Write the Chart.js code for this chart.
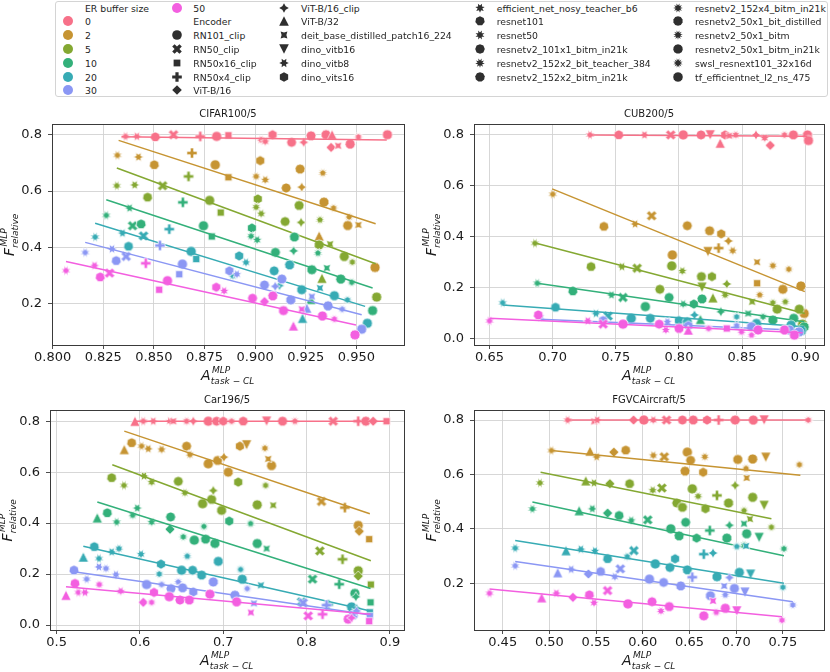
<!DOCTYPE html>
<html><head><meta charset="utf-8">
<script src="https://cdn.jsdelivr.net/npm/chart.js@4/dist/chart.umd.min.js"></script>
<style>
body{margin:0;background:#fff;width:830px;height:672px;position:relative;overflow:hidden;font-family:'DejaVu Sans',sans-serif;}
.pane{position:absolute;}
#legend{position:absolute;left:55px;top:1px;width:773px;height:96px;border:1px solid #d4d4d4;border-radius:3px;box-sizing:border-box;background:#fff;}
.lt{position:absolute;font-size:9.3px;line-height:11px;color:#262626;white-space:nowrap;transform:translateY(-50%);}
.lm{position:absolute;}
</style></head><body>
<div id="legend"></div>
<div class="pane" style="left:0;top:100px"><canvas id="c0" width="415" height="285"></canvas></div>
<div class="pane" style="left:415px;top:100px"><canvas id="c1" width="415" height="285"></canvas></div>
<div class="pane" style="left:0;top:385px"><canvas id="c2" width="415" height="287"></canvas></div>
<div class="pane" style="left:415px;top:385px"><canvas id="c3" width="415" height="287"></canvas></div>
<script>
// ---------- categories ----------
const BUFFERS = ['0','2','5','10','20','30','50'];
const COLORS = ['#f77189','#c69432','#84a832','#33b07a','#37abb4','#8b97f4','#f35fe0'];
const ENCODERS = ['RN101_clip','RN50_clip','RN50x16_clip','RN50x4_clip','ViT-B/16','ViT-B/16_clip','ViT-B/32',
  'deit_base_distilled_patch16_224','dino_vitb16','dino_vitb8','dino_vits16','efficient_net_nosy_teacher_b6',
  'resnet101','resnet50','resnetv2_101x1_bitm_in21k','resnetv2_152x2_bit_teacher_384','resnetv2_152x2_bitm_in21k',
  'resnetv2_152x4_bitm_in21k','resnetv2_50x1_bit_distilled','resnetv2_50x1_bitm','resnetv2_50x1_bitm_in21k',
  'swsl_resnext101_32x16d','tf_efficientnet_l2_ns_475'];
const TITLES = ['CIFAR100/5','CUB200/5','Car196/5','FGVCAircraft/5'];

// ---------- tick labels ----------
const CIFAR_XTICKS = ['0.800','0.825','0.850','0.875','0.900','0.925','0.950'];
const CIFAR_YTICKS = ['0.2','0.4','0.6','0.8'];
const CUB_XTICKS = ['0.65','0.70','0.75','0.80','0.85','0.90'];
const CUB_YTICKS = ['0.0','0.2','0.4','0.6','0.8'];
const CAR_XTICKS = ['0.5','0.6','0.7','0.8','0.9'];
const CAR_YTICKS = ['0.0','0.2','0.4','0.6','0.8'];
const FGVC_XTICKS = ['0.45','0.50','0.55','0.60','0.65','0.70','0.75'];
const FGVC_YTICKS = ['0.2','0.4','0.6','0.8'];

// ---------- series: [A_task-CL, F_relative, encoder index] ----------
const CIFAR_B0 = [[0.836,0.794,13],[0.8416,0.794,9],[0.8507,0.792,12],[0.8597,0.80,1],[0.8729,0.794,3],[0.881,0.794,0],[0.8868,0.798,2],[0.903,0.782,15],[0.905,0.776,11],[0.9086,0.80,10],[0.918,0.773,14],[0.924,0.773,5],[0.9276,0.796,16],[0.935,0.80,18],[0.938,0.80,6],[0.9375,0.755,4],[0.941,0.761,7],[0.9469,0.767,20],[0.951,0.792,17],[0.9653,0.80,22]];
const CIFAR_B2 = [[0.832,0.727,13],[0.8424,0.721,9],[0.8502,0.693,12],[0.8688,0.735,3],[0.8803,0.693,0],[0.8868,0.649,2],[0.9025,0.708,10],[0.9005,0.652,15],[0.905,0.640,11],[0.9153,0.611,14],[0.9222,0.678,16],[0.923,0.614,5],[0.9334,0.664,19],[0.934,0.561,18],[0.9387,0.540,17],[0.9464,0.508,21],[0.9457,0.478,20],[0.951,0.48,7],[0.9316,0.441,6],[0.9592,0.329,22]];
const CIFAR_B5 = [[0.8317,0.619,13],[0.8405,0.622,9],[0.8469,0.578,12],[0.8543,0.619,1],[0.8671,0.652,3],[0.8775,0.567,0],[0.883,0.524,2],[0.9013,0.572,10],[0.9005,0.543,15],[0.903,0.520,11],[0.9148,0.492,14],[0.9217,0.549,16],[0.9227,0.489,5],[0.932,0.498,19],[0.9316,0.409,18],[0.937,0.412,7],[0.944,0.368,20],[0.948,0.348,17],[0.933,0.291,6],[0.96,0.224,22]];
const CIFAR_B10 = [[0.8265,0.514,13],[0.838,0.540,9],[0.8395,0.477,1],[0.8437,0.483,12],[0.8643,0.56,3],[0.8745,0.477,0],[0.8786,0.439,2],[0.8984,0.469,10],[0.898,0.44,15],[0.901,0.427,11],[0.910,0.383,14],[0.9194,0.437,16],[0.919,0.388,5],[0.928,0.321,18],[0.9354,0.327,7],[0.9423,0.288,20],[0.9477,0.276,17],[0.9275,0.216,6],[0.958,0.176,22],[0.931,0.38,19]];
const CIFAR_B20 = [[0.821,0.437,13],[0.8345,0.451,9],[0.8449,0.441,1],[0.8375,0.404,12],[0.8576,0.465,3],[0.8684,0.386,0],[0.8709,0.359,2],[0.8921,0.370,10],[0.8955,0.347,11],[0.9094,0.317,14],[0.917,0.338,16],[0.923,0.25,18],[0.9391,0.229,20],[0.9234,0.149,6],[0.932,0.256,7],[0.9456,0.214,17],[0.9554,0.131,22],[0.912,0.265,5],[0.889,0.30,15]];
const CIFAR_B30 = [[0.8161,0.382,13],[0.8293,0.395,9],[0.8314,0.353,12],[0.8363,0.368,1],[0.853,0.407,3],[0.8641,0.341,0],[0.8625,0.305,2],[0.8873,0.317,10],[0.891,0.305,11],[0.9046,0.267,14],[0.9132,0.288,16],[0.9176,0.214,18],[0.9099,0.262,5],[0.928,0.226,7],[0.9255,0.185,6],[0.936,0.193,20],[0.943,0.181,17],[0.9526,0.11,22]];
const CIFAR_B50 = [[0.8066,0.318,13],[0.8207,0.336,9],[0.8235,0.295,12],[0.8281,0.309,1],[0.846,0.344,3],[0.8567,0.282,0],[0.8526,0.25,2],[0.8808,0.259,10],[0.8847,0.246,11],[0.8987,0.22,14],[0.9046,0.208,4],[0.9087,0.228,16],[0.914,0.176,18],[0.9189,0.122,6],[0.923,0.181,7],[0.9332,0.157,20],[0.9391,0.146,17],[0.9493,0.09,22]];
const CIFAR_FIT = [[0.834,0.793,0.965,0.781],[0.8326,0.78,0.9595,0.484],[0.8317,0.682,0.9595,0.342],[0.8265,0.569,0.958,0.256],[0.821,0.486,0.9543,0.191],[0.8161,0.418,0.9526,0.161],[0.8066,0.35,0.9498,0.125]];

const CUB_B0 = [[0.7296,0.80,13],[0.7523,0.80,12],[0.7727,0.80,9],[0.7935,0.80,1],[0.8034,0.80,0],[0.8175,0.80,14],[0.8248,0.80,8],[0.8366,0.80,10],[0.8327,0.768,6],[0.84,0.797,7],[0.845,0.80,15],[0.861,0.80,5],[0.8679,0.788,11],[0.8723,0.759,4],[0.8836,0.80,17],[0.8906,0.80,16],[0.9018,0.80,18],[0.9026,0.778,22]];
const CUB_B2 = [[0.7001,0.567,13],[0.7406,0.44,12],[0.7653,0.45,9],[0.7784,0.482,1],[0.7948,0.328,0],[0.8066,0.443,14],[0.8243,0.423,16],[0.8335,0.411,10],[0.823,0.341,8],[0.8314,0.355,3],[0.8392,0.383,5],[0.8426,0.345,11],[0.8619,0.30,7],[0.8744,0.286,15],[0.887,0.272,17],[0.8619,0.217,2],[0.864,0.171,19],[0.8823,0.193,18],[0.8966,0.206,20],[0.8992,0.098,22]];
const CUB_B5 = [[0.686,0.374,13],[0.7304,0.282,12],[0.7549,0.282,9],[0.7669,0.276,1],[0.7943,0.285,0],[0.7849,0.193,14],[0.8027,0.265,11],[0.8178,0.243,16],[0.8261,0.243,10],[0.8183,0.201,8],[0.8269,0.16,6],[0.8379,0.214,5],[0.8366,0.171,15],[0.858,0.144,7],[0.8744,0.14,17],[0.8843,0.144,19],[0.8778,0.115,18],[0.8953,0.115,20],[0.8979,0.056,22]];
const CUB_B10 = [[0.6878,0.217,13],[0.716,0.186,12],[0.7466,0.171,9],[0.7557,0.161,1],[0.7734,0.125,0],[0.7922,0.161,14],[0.8034,0.135,11],[0.8118,0.135,10],[0.8183,0.155,16],[0.817,0.075,6],[0.8332,0.105,5],[0.8549,0.098,7],[0.8744,0.072,18],[0.8909,0.079,20],[0.8666,0.085,17],[0.8992,0.045,22]];
const CUB_B20 = [[0.6604,0.14,13],[0.7022,0.122,12],[0.7343,0.098,9],[0.7439,0.088,1],[0.7622,0.079,0],[0.7773,0.079,14],[0.80,0.07,10],[0.8066,0.065,16],[0.8123,0.092,5],[0.8457,0.085,17],[0.8614,0.059,18],[0.8888,0.052,20],[0.897,0.03,22]];
const CUB_B30 = [[0.69,0.085,13],[0.74,0.07,12],[0.7909,0.065,11],[0.8075,0.05,10],[0.8457,0.05,15],[0.8575,0.046,18],[0.8875,0.033,20],[0.895,0.025,22]];
const CUB_B50 = [[0.65,0.069,13],[0.6886,0.092,12],[0.7278,0.069,9],[0.74,0.056,1],[0.7557,0.056,0],[0.7844,0.056,14],[0.7896,0.033,11],[0.8001,0.039,16],[0.8074,0.033,6],[0.8235,0.039,17],[0.8379,0.039,2],[0.8496,0.026,15],[0.8575,0.013,19],[0.8627,0.033,18],[0.8836,0.033,20],[0.8914,0.013,22]];
const CUB_FIT = [[0.7296,0.80,0.9018,0.795],[0.6996,0.588,0.8997,0.184],[0.6847,0.377,0.8997,0.098],[0.6878,0.217,0.8992,0.065],[0.6604,0.131,0.8992,0.046],[0.69,0.075,0.895,0.032],[0.65,0.079,0.8979,0.022]];

const CAR_B0 = [[0.594,0.8,6],[0.604,0.8,13],[0.616,0.8,9],[0.636,0.8,11],[0.64,0.8,7],[0.656,0.8,15],[0.664,0.8,5],[0.682,0.8,0],[0.692,0.8,14],[0.70,0.8,10],[0.71,0.8,17],[0.724,0.8,12],[0.752,0.8,8],[0.7712,0.8,16],[0.786,0.8,19],[0.832,0.8,1],[0.862,0.8,3],[0.8712,0.8,18],[0.88,0.8,4],[0.896,0.8,2]];
const CAR_B2 = [[0.5812,0.689,6],[0.59,0.715,12],[0.602,0.702,13],[0.61,0.692,9],[0.626,0.689,11],[0.656,0.702,14],[0.66,0.669,15],[0.682,0.633,0],[0.6932,0.646,16],[0.7008,0.659,5],[0.706,0.60,18],[0.72,0.702,10],[0.728,0.707,8],[0.75,0.694,17],[0.758,0.626,20],[0.754,0.652,7],[0.818,0.485,1],[0.846,0.461,3],[0.862,0.391,22],[0.8632,0.368,4],[0.8752,0.337,2]];
const CAR_B5 = [[0.566,0.578,12],[0.5808,0.548,13],[0.6048,0.585,9],[0.614,0.561,11],[0.646,0.564,14],[0.654,0.519,15],[0.6752,0.476,0],[0.686,0.493,16],[0.688,0.528,5],[0.698,0.45,18],[0.718,0.561,10],[0.7408,0.472,20],[0.7508,0.548,17],[0.76,0.47,7],[0.816,0.291,1],[0.8432,0.258,3],[0.862,0.213,22],[0.862,0.192,4],[0.8772,0.159,2]];
const CAR_B10 = [[0.5488,0.421,6],[0.5608,0.44,12],[0.572,0.404,13],[0.5912,0.431,15],[0.5968,0.459,9],[0.614,0.404,11],[0.6368,0.424,14],[0.636,0.376,4],[0.652,0.346,17],[0.6652,0.333,0],[0.6788,0.337,16],[0.69,0.32,18],[0.6768,0.387,21],[0.7072,0.408,10],[0.7328,0.398,19],[0.7408,0.32,20],[0.752,0.30,7],[0.8072,0.18,1],[0.8392,0.16,3],[0.858,0.124,22],[0.8592,0.111,5],[0.8768,0.089,2]];
const CAR_B20 = [[0.532,0.267,6],[0.5452,0.307,12],[0.5508,0.261,13],[0.566,0.287,9],[0.5748,0.30,15],[0.6012,0.278,11],[0.6232,0.20,17],[0.6252,0.239,10],[0.6568,0.27,19],[0.65,0.215,0],[0.6632,0.215,14],[0.674,0.196,16],[0.694,0.25,18],[0.7208,0.218,21],[0.7228,0.18,20],[0.7452,0.156,7],[0.794,0.091,1],[0.826,0.08,3],[0.854,0.071,22],[0.86,0.065,5],[0.876,0.05,2]];
const CAR_B30 = [[0.5208,0.215,12],[0.536,0.18,13],[0.5508,0.228,9],[0.5592,0.222,15],[0.5712,0.198,11],[0.608,0.159,0],[0.626,0.159,17],[0.6372,0.143,14],[0.646,0.169,19],[0.6512,0.146,16],[0.664,0.13,10],[0.688,0.169,18],[0.714,0.117,20],[0.7288,0.143,21],[0.7368,0.085,7],[0.796,0.087,1],[0.824,0.078,3],[0.856,0.039,22],[0.86,0.055,5],[0.876,0.035,2]];
const CAR_B50 = [[0.5112,0.117,6],[0.522,0.163,12],[0.526,0.128,13],[0.534,0.128,9],[0.5512,0.159,15],[0.5768,0.133,11],[0.604,0.089,4],[0.614,0.089,17],[0.6168,0.128,10],[0.6352,0.111,0],[0.648,0.098,14],[0.6592,0.098,16],[0.684,0.121,18],[0.716,0.091,20],[0.7332,0.049,7],[0.802,0.036,1],[0.8192,0.042,3],[0.85,0.023,22],[0.854,0.028,5],[0.8752,0.015,2]];
const CAR_FIT = [[0.594,0.8,0.896,0.8],[0.5812,0.761,0.876,0.437],[0.5668,0.629,0.8772,0.252],[0.5488,0.483,0.8768,0.143],[0.532,0.309,0.8768,0.055],[0.5208,0.209,0.8768,0.039],[0.5112,0.15,0.8768,0.042]];

const FGVC_B0 = [[0.5195,0.8,13],[0.548,0.795,7],[0.5513,0.8,9],[0.5901,0.8,4],[0.6011,0.8,0],[0.6113,0.8,11],[0.6254,0.8,1],[0.6424,0.8,14],[0.654,0.8,16],[0.6688,0.8,10],[0.6812,0.8,3],[0.6989,0.8,18],[0.7183,0.8,20],[0.7299,0.8,8],[0.7772,0.8,17]];
const FGVC_B2 = [[0.5022,0.688,13],[0.5435,0.686,6],[0.5506,0.665,9],[0.569,0.682,4],[0.5817,0.689,12],[0.6113,0.67,11],[0.623,0.665,1],[0.6477,0.682,0],[0.6512,0.652,14],[0.6452,0.612,16],[0.6646,0.608,10],[0.6664,0.665,15],[0.7017,0.655,18],[0.7176,0.657,20],[0.7105,0.622,19],[0.7112,0.587,7],[0.7317,0.663,8],[0.7677,0.636,17]];
const FGVC_B5 = [[0.4899,0.569,13],[0.539,0.577,6],[0.5478,0.569,9],[0.5647,0.566,4],[0.5859,0.566,12],[0.6106,0.542,11],[0.6205,0.55,1],[0.653,0.547,0],[0.6593,0.52,15],[0.6364,0.495,14],[0.6424,0.479,16],[0.6671,0.474,10],[0.6794,0.523,3],[0.6918,0.495,18],[0.6989,0.56,5],[0.7176,0.516,20],[0.7299,0.486,8],[0.7084,0.467,19],[0.7147,0.436,7],[0.7377,0.406,17]];
const FGVC_B10 = [[0.4818,0.473,13],[0.5319,0.467,6],[0.546,0.474,9],[0.5623,0.458,4],[0.5746,0.449,12],[0.5877,0.431,11],[0.6053,0.433,1],[0.63,0.40,0],[0.6459,0.424,14],[0.6389,0.374,16],[0.6576,0.366,10],[0.6717,0.394,3],[0.6928,0.413,5],[0.69,0.366,18],[0.7112,0.382,20],[0.7084,0.419,7],[0.7246,0.368,8],[0.7084,0.34,19],[0.7511,0.327,17]];
const FGVC_B20 = [[0.4634,0.329,13],[0.5178,0.32,6],[0.5337,0.325,9],[0.5488,0.319,11],[0.5623,0.29,12],[0.5834,0.298,15],[0.5905,0.32,1],[0.6134,0.271,0],[0.629,0.258,14],[0.6346,0.29,10],[0.6477,0.249,16],[0.6653,0.307,3],[0.6752,0.311,5],[0.6794,0.224,18],[0.7006,0.335,19],[0.7105,0.337,7],[0.7034,0.24,20],[0.7154,0.233,8],[0.75,0.185,17]];
const FGVC_B30 = [[0.4634,0.264,13],[0.5089,0.239,6],[0.5234,0.251,9],[0.5418,0.234,4],[0.5548,0.243,12],[0.57,0.224,11],[0.576,0.253,1],[0.6071,0.215,0],[0.6223,0.203,14],[0.6406,0.19,16],[0.653,0.222,3],[0.6928,0.221,5],[0.6724,0.154,18],[0.6981,0.181,20],[0.6872,0.19,7],[0.6883,0.157,19],[0.7094,0.167,8],[0.7606,0.12,17]];
const FGVC_B50 = [[0.4359,0.163,13],[0.4917,0.147,6],[0.5075,0.163,9],[0.5252,0.148,4],[0.5428,0.157,12],[0.5478,0.128,11],[0.5623,0.173,1],[0.5841,0.124,0],[0.6099,0.132,14],[0.6194,0.098,15],[0.6283,0.114,16],[0.6653,0.08,18],[0.6752,0.135,7],[0.6787,0.093,19],[0.6883,0.108,20],[0.7006,0.098,8],[0.749,0.064,17]];
const FGVC_FIT = [[0.5195,0.8,0.7772,0.8],[0.5022,0.688,0.7687,0.597],[0.4906,0.608,0.7377,0.437],[0.4818,0.499,0.7511,0.301],[0.4634,0.357,0.7511,0.20],[0.4634,0.28,0.7606,0.132],[0.4359,0.179,0.749,0.077]];

// ---------- marker shapes (seaborn default marker sequence) ----------
const MARKERS = [['o'],['X'],['poly',4,45],['P'],['poly',4,0],['star',4,0],['^'],['star',4,45],['v'],
  ['star',6,30],['poly',6,0],['star',7,360/7/2],['poly',7,0],['star',8,22.5],['poly',8,0],['star',9,20],['poly',9,0],
  ['star',10,18],['poly',10,0],['star',11,360/11/2],['poly',11,0],['star',12,15],['poly',12,0]];
const R = 5.1;
function pathMarker(ctx, m, cx, cy, r) {
  const t = m[0];
  ctx.beginPath();
  const pts = [];
  if (t === 'o') { ctx.arc(cx, cy, r, 0, Math.PI * 2); return; }
  if (t === 'X') { [[-1,-2],[0,-1],[1,-2],[2,-1],[1,0],[2,1],[1,2],[0,1],[-1,2],[-2,1],[-1,0],[-2,-1]].forEach(p => pts.push([p[0]*r/2, p[1]*r/2])); }
  else if (t === 'P') { [[-1,-3],[1,-3],[1,-1],[3,-1],[3,1],[1,1],[1,3],[-1,3],[-1,1],[-3,1],[-3,-1],[-1,-1]].forEach(p => pts.push([p[0]*r/3, p[1]*r/3])); }
  else if (t === '^') { pts.push([0,-r],[-r,r],[r,r]); }
  else if (t === 'v') { pts.push([0,r],[-r,-r],[r,-r]); }
  else if (t === 'poly') {
    const n = m[1], a = m[2] * Math.PI / 180;
    for (let k = 0; k < n; k++) { const th = Math.PI/2 + 2*Math.PI*k/n + a; pts.push([r*Math.cos(th), -r*Math.sin(th)]); }
  } else if (t === 'star') {
    const n = m[1], a = m[2] * Math.PI / 180;
    for (let k = 0; k < 2*n; k++) { const rr = k % 2 ? r*0.5 : r; const th = Math.PI/2 + Math.PI*k/n + a; pts.push([rr*Math.cos(th), -rr*Math.sin(th)]); }
  }
  pts.forEach((p, i) => i ? ctx.lineTo(cx+p[0], cy+p[1]) : ctx.moveTo(cx+p[0], cy+p[1]));
  ctx.closePath();
}
function markerCanvas(m, color, edge, r) {
  const S = 14, c = document.createElement('canvas');
  c.width = S; c.height = S;
  const ctx = c.getContext('2d');
  pathMarker(ctx, m, S/2, S/2, r || R);
  ctx.fillStyle = color; ctx.fill();
  if (edge) { ctx.strokeStyle = '#ffffff'; ctx.lineWidth = 0.7; ctx.lineJoin = 'miter'; ctx.stroke(); }
  return c;
}
const IMG = COLORS.map(col => MARKERS.map(m => markerCanvas(m, col, true)));

// ---------- legend ----------
(function buildLegend() {
  const L = document.getElementById('legend');
  const entries = [{h:'ER buffer size'}];
  BUFFERS.forEach((b, i) => entries.push({t:b, c:markerCanvas(['o'], COLORS[i], false, 5)}));
  entries.push({h:'Encoder'});
  ENCODERS.forEach((e, i) => entries.push({t:e, c:markerCanvas(MARKERS[i], '#2f2f2f', false, 4.8)}));
  const colSizes = [7,7,6,6,6];
  const mx = [12,120.7,228.3,424,622.3], tx = [29,137.3,245,440.7,639];
  let k = 0;
  colSizes.forEach((n, col) => {
    for (let r = 0; r < n; r++, k++) {
      const en = entries[k], y = 5.5 + 13.8 * r;
      const d = document.createElement('div'); d.className = 'lt';
      d.style.left = tx[col] + 'px'; d.style.top = y + 'px';
      d.textContent = en.h || en.t; L.appendChild(d);
      if (en.c) { en.c.className = 'lm'; en.c.style.left = (mx[col] - 7) + 'px'; en.c.style.top = (y - 7) + 'px'; L.appendChild(en.c); }
    }
  });
})();

// ---------- charts ----------
const TICK_FONT = {family:'DejaVu Sans', size:13};
function drawMath(ctx, base, sup, sub, cx, baseline) {
  ctx.textAlign = 'left'; ctx.textBaseline = 'alphabetic'; ctx.fillStyle = '#1a1a1a';
  ctx.font = 'italic 14px "DejaVu Sans"'; const wb = ctx.measureText(base).width;
  ctx.font = 'italic 9px "DejaVu Sans"'; const ws = ctx.measureText(sup).width, wu = ctx.measureText(sub).width;
  const x = cx - (wb + 1 + Math.max(ws, wu)) / 2;
  ctx.font = 'italic 14px "DejaVu Sans"'; ctx.fillText(base, x, baseline);
  ctx.font = 'italic 9px "DejaVu Sans"';
  ctx.fillText(sup, x + wb + 1.5, baseline - 7.5);
  ctx.fillText(sub, x + wb + 0.3, baseline + 3.5);
}
const decoPlugin = {
  id: 'deco',
  afterDatasetsDraw(chart, args, o) {
    const {ctx, chartArea: a} = chart;
    ctx.save();
    ctx.strokeStyle = '#3a3a3a'; ctx.lineWidth = 1;
    ctx.strokeRect(Math.round(a.left) + 0.5, Math.round(a.top) + 0.5, Math.round(a.right - a.left), Math.round(a.bottom - a.top));
    ctx.fillStyle = '#1a1a1a'; ctx.font = '10px "DejaVu Sans"'; ctx.textAlign = 'center'; ctx.textBaseline = 'alphabetic';
    ctx.fillText(o.title, (a.left + a.right) / 2, a.top - 7);
    drawMath(ctx, 'A', 'MLP', 'task \u2212 CL', (a.left + a.right) / 2, a.bottom + 35);
    ctx.translate(a.left - 38, (a.top + a.bottom) / 2); ctx.rotate(-Math.PI / 2);
    drawMath(ctx, 'F', 'MLP', 'relative', 0, 0);
    ctx.restore();
  }
};
function makePane(id, title, series, fits, xr, yr, xt, yt, box) {
  const cv = document.getElementById(id);
  const W = cv.width, H = cv.height;
  const datasets = [];
  series.forEach((pts, b) => {
    datasets.push({data: pts.map(p => ({x:p[0], y:p[1], e:p[2]})), pointStyle: c => (c.raw && c.raw.e !== undefined ? IMG[b][c.raw.e] : 'circle'),
      pointRadius: 5, pointHoverRadius: 5, backgroundColor: COLORS[b], borderColor: COLORS[b], order: 100 - 2*b});
    const f = fits[b];
    datasets.push({data: [{x:f[0], y:f[1]}, {x:f[2], y:f[3]}], showLine: true, borderColor: COLORS[b], borderWidth: 1.5,
      pointRadius: 0, pointHoverRadius: 0, order: 99 - 2*b});
  });
  const grid = {color:'#d2d2d2', lineWidth:0.9, tickColor:'#3a3a3a', tickLength:4, drawTicks:true};
  return new Chart(cv, {
    type: 'scatter',
    data: {datasets},
    options: {
      responsive:false, animation:false, events:[],
      layout:{padding:{left:0, top:box[1], right:W - box[2], bottom:0}},
      plugins:{legend:{display:false}, tooltip:{enabled:false}, deco:{title}},
      scales:{
        x:{type:'linear', min:xr[0], max:xr[1], border:{display:false}, grid,
          afterBuildTicks: s => { s.ticks = xt.map(v => ({value:parseFloat(v)})); },
          afterFit: s => { s.height = H - box[3]; },
          ticks:{callback:(v, i) => xt[i], font:TICK_FONT, color:'#1a1a1a', padding:1, maxRotation:0, autoSkip:false}},
        y:{type:'linear', min:yr[0], max:yr[1], border:{display:false}, grid,
          afterBuildTicks: s => { s.ticks = yt.map(v => ({value:parseFloat(v)})); },
          afterFit: s => { s.width = box[0]; },
          ticks:{callback:(v, i) => yt[i], font:TICK_FONT, color:'#1a1a1a', padding:6, autoSkip:false}}
      }
    },
    plugins:[decoPlugin]
  });
}
makePane('c0', TITLES[0], [CIFAR_B0,CIFAR_B2,CIFAR_B5,CIFAR_B10,CIFAR_B20,CIFAR_B30,CIFAR_B50], CIFAR_FIT,
  [0.7997,0.9735], [0.054,0.838], CIFAR_XTICKS, CIFAR_YTICKS, [52,24,404,245]);
makePane('c1', TITLES[1], [CUB_B0,CUB_B2,CUB_B5,CUB_B10,CUB_B20,CUB_B30,CUB_B50], CUB_FIT,
  [0.6377,0.9149], [-0.026,0.843], CUB_XTICKS, CUB_YTICKS, [59,24,413,245]);
makePane('c2', TITLES[2], [CAR_B0,CAR_B2,CAR_B5,CAR_B10,CAR_B20,CAR_B30,CAR_B50], CAR_FIT,
  [0.492,0.917], [-0.0196,0.844], CAR_XTICKS, CAR_YTICKS, [50,25,404,245]);
makePane('c3', TITLES[3], [FGVC_B0,FGVC_B2,FGVC_B5,FGVC_B10,FGVC_B20,FGVC_B30,FGVC_B50], FGVC_FIT,
  [0.4193,0.794], [0.028,0.837], FGVC_XTICKS, FGVC_YTICKS, [59,25,413,245]);
</script>
</body></html>
